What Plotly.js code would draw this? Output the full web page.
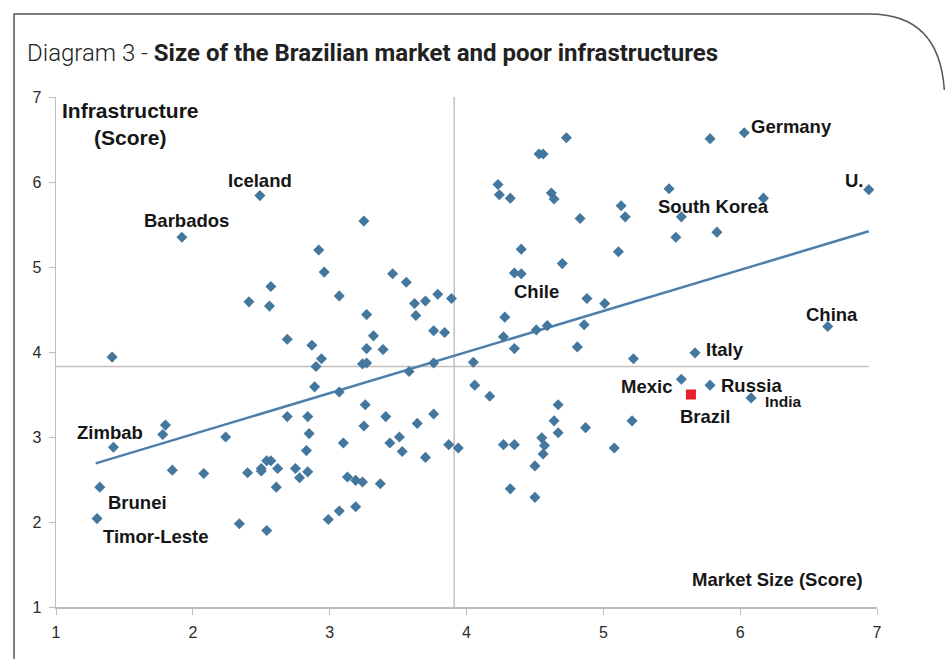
<!DOCTYPE html>
<html>
<head>
<meta charset="utf-8">
<script src="https://cdn.plot.ly/plotly-3.0.1.min.js"></script>
<style>html,body{margin:0;padding:0;background:#fff;}#chart{width:945px;height:659px;}</style>
</head>
<body>
<div id="chart"></div>
<script>
// ---- Data (Market Size score, Infrastructure score) ----
const labeledCountries = ['Iceland','Barbados','Germany','U.','South Korea','Chile','China','Italy','Mexic','Russia','India','Zimbab','Brunei','Timor-Leste'];
const labeledMarket    = [2.49, 1.92, 6.03, 6.94, 5.57, 4.51, 6.64, 5.67, 5.57, 5.78, 6.08, 1.42, 1.32, 1.30];
const labeledInfra     = [5.84, 5.35, 6.58, 5.91, 5.59, 4.26, 4.30, 3.99, 3.68, 3.61, 3.46, 2.88, 2.41, 2.04];

const brazilName   = ['Brazil'];
const brazilMarket = [5.64];
const brazilInfra  = [3.50];

const otherMarket = [2.92,2.96,2.57,3.25,3.46,3.56,4.73,4.53,4.56,4.23,4.24,4.32,4.62,4.64,4.83,5.13,5.16,4.40,5.11,4.70,4.35,4.40,
  5.78,5.48,6.17,5.53,5.83,1.41,2.41,2.56,2.69,2.87,2.94,2.90,2.89,2.69,2.84,2.85,2.83,1.80,1.78,2.24,3.07,
  3.27,3.32,3.27,3.39,3.24,3.27,3.62,3.70,3.79,3.63,3.89,3.76,3.84,3.76,3.58,3.07,3.26,3.25,3.41,3.64,3.76,3.10,3.44,3.51,3.53,3.70,3.87,3.94,
  4.05,4.06,4.17,4.28,4.27,4.35,4.59,4.81,4.86,4.88,5.01,4.67,4.64,4.67,4.55,4.57,4.56,4.87,5.08,4.27,4.35,5.22,5.21,
  1.85,2.08,2.34,2.40,2.50,2.50,2.54,2.57,2.62,2.61,2.54,2.75,2.78,2.84,2.99,3.07,3.19,3.13,3.19,3.24,3.37,4.32,4.50,4.50];
const otherInfra = [5.20,4.94,4.77,5.54,4.92,4.82,6.52,6.33,6.33,5.97,5.85,5.81,5.87,5.80,5.57,5.72,5.59,5.21,5.18,5.04,4.93,4.92,
  6.51,5.92,5.81,5.35,5.41,3.94,4.59,4.54,4.15,4.08,3.92,3.83,3.59,3.24,3.24,3.04,2.84,3.14,3.03,3.00,4.66,
  4.44,4.19,4.04,4.03,3.86,3.87,4.57,4.60,4.68,4.43,4.63,4.25,4.23,3.87,3.77,3.53,3.38,3.13,3.24,3.16,3.27,2.93,2.93,3.00,2.83,2.76,2.91,2.87,
  3.88,3.61,3.48,4.41,4.18,4.04,4.31,4.06,4.32,4.63,4.57,3.38,3.19,3.05,2.99,2.90,2.80,3.11,2.87,2.91,2.91,3.92,3.19,
  2.61,2.57,1.98,2.58,2.60,2.63,2.72,2.72,2.63,2.41,1.90,2.63,2.52,2.59,2.03,2.13,2.18,2.53,2.49,2.47,2.45,2.39,2.29,2.66];

// Trend line and average reference lines
const trendMarket = [1.29, 6.94];
const trendInfra  = [2.69, 5.42];
const avgMarket = 3.91;
const avgInfra  = 3.83;
const axisRange = [1, 7];
const tickVals  = [1, 2, 3, 4, 5, 6, 7];

// ---- Styles ----
const pointColor = '#44779e';
const labelFont = {family: 'Liberation Sans, Arial, sans-serif', size: 18.5, color: '#161616', weight: 700};
// label offsets in pixels relative to their point
const labelStyle = {
  'Iceland':     {xshift: 0,  yshift: 15, xanchor: 'center'},
  'Barbados':    {xshift: 5,  yshift: 17, xanchor: 'center'},
  'Germany':     {xshift: 5,  yshift: 6,  xanchor: 'left'},
  'U.':          {xshift: -3, yshift: 9,  xanchor: 'right'},
  'South Korea': {xshift: 32, yshift: 10, xanchor: 'center'},
  'Chile':       {xshift: 0,  yshift: 38, xanchor: 'center'},
  'China':       {xshift: 4,  yshift: 12, xanchor: 'center'},
  'Italy':       {xshift: 9,  yshift: 3,  xanchor: 'left'},
  'Mexic':       {xshift: -7, yshift: -7, xanchor: 'right'},
  'Russia':      {xshift: 9,  yshift: 0,  xanchor: 'left'},
  'India':       {xshift: 12, yshift: -4, xanchor: 'left', size: 15.5},
  'Zimbab':      {xshift: -3, yshift: 15, xanchor: 'center'},
  'Brunei':      {xshift: 6,  yshift: -15, xanchor: 'left'},
  'Timor-Leste': {xshift: 4,  yshift: -18, xanchor: 'left'},
  'Brazil':      {xshift: 14, yshift: -22, xanchor: 'center'}
};

const traces = [
  {x: [avgMarket, avgMarket], y: axisRange, mode: 'lines', line: {color: '#c4bfbf', width: 1.5}, hoverinfo: 'skip'},
  {x: [axisRange[0], trendMarket[1]], y: [avgInfra, avgInfra], mode: 'lines', line: {color: '#c4bfbf', width: 1.5}, hoverinfo: 'skip'},
  {x: trendMarket, y: trendInfra, mode: 'lines', line: {color: '#4d7fab', width: 2.5}, hoverinfo: 'skip'},
  {x: otherMarket, y: otherInfra, mode: 'markers', marker: {symbol: 'diamond', size: 8.5, color: pointColor}},
  {x: labeledMarket, y: labeledInfra, text: labeledCountries, mode: 'markers', marker: {symbol: 'diamond', size: 8.5, color: pointColor}},
  {x: brazilMarket, y: brazilInfra, text: brazilName, mode: 'markers', marker: {symbol: 'square', size: 10, color: '#e8202a'}}
];

const annotations = [];
function addLabels(names, xs, ys) {
  names.forEach((n, i) => {
    const s = labelStyle[n];
    annotations.push({
      x: xs[i], y: ys[i], xref: 'x', yref: 'y', text: n, showarrow: false,
      xanchor: s.xanchor, yanchor: 'middle', xshift: s.xshift, yshift: s.yshift,
      font: Object.assign({}, labelFont, s.size ? {size: s.size} : {})
    });
  });
}
addLabels(labeledCountries, labeledMarket, labeledInfra);
addLabels(brazilName, brazilMarket, brazilInfra);

annotations.push({xref: 'paper', yref: 'paper', x: 0.0913, y: 0.947, text: 'Infrastructure<br>(Score)',
  showarrow: false, align: 'center', xanchor: 'center', yanchor: 'middle',
  font: {family: 'Liberation Sans, Arial, sans-serif', size: 21, color: '#161616', weight: 700}});
annotations.push({xref: 'paper', yref: 'paper', x: 0.879, y: 0.0535, text: 'Market Size (Score)',
  showarrow: false, xanchor: 'center', yanchor: 'middle',
  font: {family: 'Liberation Sans, Arial, sans-serif', size: 18.5, color: '#161616', weight: 700}});

const axisCommon = {
  range: axisRange, tickvals: tickVals, showgrid: false, zeroline: false,
  showline: true, linecolor: '#bdbdbd', linewidth: 1.5, ticks: 'outside', ticklen: 6, tickcolor: '#bdbdbd',
  tickfont: {family: 'Liberation Sans, Arial, sans-serif', size: 16, color: '#2a2a2a'}, fixedrange: true
};

const layout = {
  width: 945, height: 659,
  margin: {l: 56, r: 67.6, t: 97, b: 51.7},
  paper_bgcolor: '#ffffff', plot_bgcolor: '#ffffff',
  showlegend: false, hovermode: false,
  title: {
    text: '<span style="font-weight:300">Diagram 3 - </span><b>Size of the Brazilian market and poor infrastructures</b>',
    xref: 'container', yref: 'container', x: 0.0286, xanchor: 'left', y: 0.9196, yanchor: 'middle',
    font: {family: 'Roboto, sans-serif', size: 24, color: '#222222', weight: 400}
  },
  xaxis: Object.assign({}, axisCommon, {ticklabelstandoff: 4}),
  yaxis: Object.assign({}, axisCommon, {ticklabelstandoff: 4}),
  annotations: annotations,
  shapes: [{
    type: 'path', xref: 'paper', yref: 'paper', layer: 'above',
    path: 'M -0.0511,-0.11 L -0.0511,1.1626 L 0.991,1.1626 Q 1.076,1.1626 1.082,1.0137',
    line: {color: '#555555', width: 1.5}
  }]
};

Plotly.newPlot('chart', traces, layout, {staticPlot: true, displayModeBar: false});
</script>
</body>
</html>
